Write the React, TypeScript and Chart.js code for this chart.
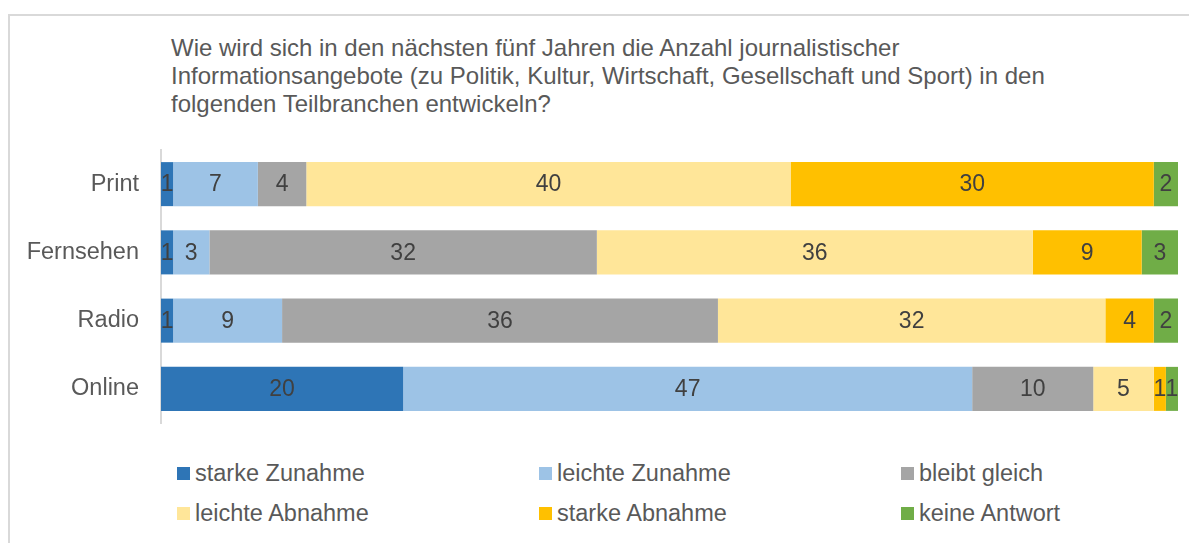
import React, { useEffect, useRef } from "react";
import { Chart, registerables } from "chart.js";

Chart.register(...registerables);

const categories = ["Print", "Fernsehen", "Radio", "Online"];
const seriesNames = [
  "starke Zunahme",
  "leichte Zunahme",
  "bleibt gleich",
  "leichte Abnahme",
  "starke Abnahme",
  "keine Antwort",
];
const starkeZunahme = [1, 1, 1, 20];
const leichteZunahme = [7, 3, 9, 47];
const bleibtGleich = [4, 32, 36, 10];
const leichteAbnahme = [40, 36, 32, 5];
const starkeAbnahme = [30, 9, 4, 1];
const keineAntwort = [2, 3, 2, 1];
const seriesValues = [
  starkeZunahme,
  leichteZunahme,
  bleibtGleich,
  leichteAbnahme,
  starkeAbnahme,
  keineAntwort,
];
const colors = ["#2E75B6", "#9DC3E6", "#A5A5A5", "#FFE699", "#FFC000", "#70AD47"];
const titleLines = [
  "Wie wird sich in den nächsten fünf Jahren die Anzahl journalistischer",
  "Informationsangebote (zu Politik, Kultur, Wirtschaft, Gesellschaft und Sport) in den",
  "folgenden Teilbranchen entwickeln?",
];
const xMax = 84;

const FONT = "'Liberation Sans', Arial, sans-serif";

const labelPlugin = {
  id: "barLabels",
  afterDatasetsDraw(chart: any) {
    const ctx = chart.ctx;
    ctx.save();
    ctx.font = `23px ${FONT}`;
    ctx.fillStyle = "#404040";
    ctx.textAlign = "center";
    ctx.textBaseline = "middle";
    chart.data.datasets.forEach((ds: any, di: number) => {
      const meta = chart.getDatasetMeta(di);
      meta.data.forEach((el: any, i: number) => {
        const v = ds.data[i];
        const cx = (el.x + el.base) / 2;
        ctx.fillText(String(v), cx, el.y + 1);
      });
    });
    ctx.restore();
  },
};

export default function App() {
  const ref = useRef<HTMLCanvasElement | null>(null);

  useEffect(() => {
    if (!ref.current) return;
    const chart = new Chart(ref.current, {
      type: "bar",
      data: {
        labels: categories,
        datasets: seriesNames.map((name, i) => ({
          label: name,
          data: seriesValues[i],
          backgroundColor: colors[i],
          borderWidth: 0,
          categoryPercentage: 1,
          barPercentage: 0.645,
        })),
      },
      options: {
        indexAxis: "y",
        animation: false,
        responsive: false,
        maintainAspectRatio: false,
        layout: { padding: { left: 0, right: 19, top: 10, bottom: 17 } },
        plugins: {
          legend: { display: false },
          title: { display: false },
          tooltip: { enabled: false },
        },
        scales: {
          x: {
            stacked: true,
            min: 0,
            max: xMax,
            display: false,
          },
          y: {
            stacked: true,
            grid: { display: false, drawTicks: false },
            border: { display: true, color: "#D9D9D9", width: 2 },
            ticks: {
              color: "#595959",
              padding: 22,
              font: { family: FONT, size: 23.5 },
            },
            afterFit: (s: any) => {
              s.width = 153;
              s.paddingTop = 0;
              s.paddingBottom = 0;
            },
          },
        },
      },
      plugins: [labelPlugin],
    });
    return () => chart.destroy();
  }, []);

  const legendPos = [
    [169, 459],
    [531, 459],
    [893, 459],
    [169, 499],
    [531, 499],
    [893, 499],
  ];

  return (
    <div
      style={{
        position: "relative",
        width: 1189,
        height: 535,
        overflow: "hidden",
        fontFamily: FONT,
        color: "#595959",
      }}
    >
      <div
        style={{
          position: "absolute",
          left: 0,
          top: 6,
          width: 1189,
          height: 529,
          borderTop: "2px solid #D9D9D9",
          borderLeft: "2px solid #D9D9D9",
          boxSizing: "border-box",
        }}
      />
      <div
        style={{
          position: "absolute",
          left: 163,
          top: 26,
          fontSize: 24,
          lineHeight: "28px",
          whiteSpace: "nowrap",
        }}
      >
        {titleLines.map((l, i) => (
          <div key={i}>{l}</div>
        ))}
      </div>
      <canvas
        ref={ref}
        width={1189}
        height={300}
        style={{ position: "absolute", left: 0, top: 132, width: 1189, height: 300 }}
      />
      {seriesNames.map((name, i) => (
        <React.Fragment key={name}>
          <div
            style={{
              position: "absolute",
              left: legendPos[i][0],
              top: legendPos[i][1],
              width: 13,
              height: 13,
              background: colors[i],
            }}
          />
          <div
            style={{
              position: "absolute",
              left: legendPos[i][0] + 18,
              top: legendPos[i][1] - 8,
              fontSize: 23.5,
              lineHeight: "28px",
              whiteSpace: "nowrap",
            }}
          >
            {name}
          </div>
        </React.Fragment>
      ))}
    </div>
  );
}
